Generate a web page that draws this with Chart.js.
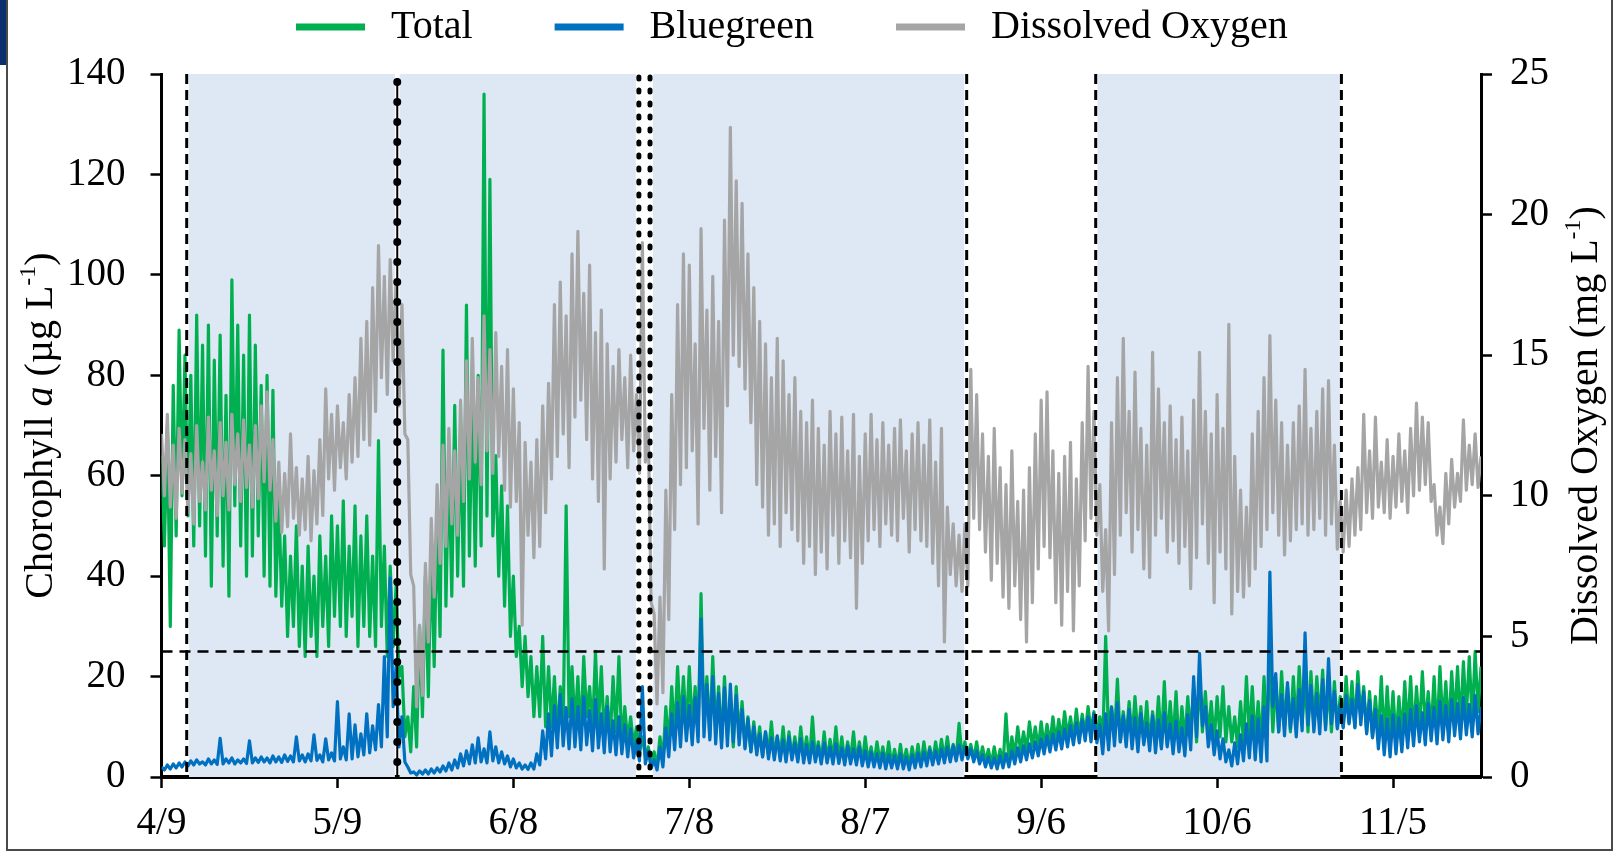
<!DOCTYPE html>
<html>
<head>
<meta charset="utf-8">
<title>Chlorophyll and dissolved oxygen</title>
<script src="https://cdn.jsdelivr.net/npm/chart.js@4.4.1/dist/chart.umd.min.js"></script>
<style>
  html, body { margin: 0; padding: 0; background: #fff; }
  #wrap { position: relative; width: 1613px; height: 853px; overflow: hidden; }
  #chart { position: absolute; left: 0; top: 0; }
  #frame { position: absolute; left: 6px; top: 0; width: 1603px; height: 849px;
           border: 2px solid #4a4a4a; border-top: none; pointer-events: none; }
  #corner { position: absolute; left: 0; top: 0; width: 8px; height: 65px; background: #0b2f6e; }
</style>
</head>
<body>
<div id="wrap">
  <canvas id="chart" width="1613" height="853"></canvas>
  <div id="corner"></div>
  <div id="frame"></div>
</div>
<script>
// time axis: day 0 = 4/9, one reading every half day
const startDay = 0;
const stepDays = 0.5;

const xTickDays = [0, 30, 60, 90, 120, 150, 180, 210];
const xTickLabels = ['4/9', '5/9', '6/8', '7/8', '8/7', '9/6', '10/6', '11/5'];

// Chlorophyll a, total (ug/L)
const totalChl = [
  64,46, 70,30, 78,48, 89,56, 84,52, 80,46, 92,50, 86,44, 90,38, 83,48,
  88,42, 76,36, 99,54, 90,46, 84,40, 92,44, 86,48, 78,40, 80,38, 77,36,
  56,34, 48,28, 44,30, 50,26, 42,24, 46,28, 40,24, 48,30, 44,26, 52,32,
  50,30, 55,28, 46,32, 54,26, 48,30, 52,28, 44,26, 67,30, 46,24, 42,26,
  38,20, 22,8, 12,5, 18,6, 30,12, 40,16, 46,22, 52,28, 85,34, 64,36,
  74,40, 70,38, 94,44, 76,42, 80,46, 136,52, 119,48, 64,40, 58,34, 54,28,
  40,24, 30,18, 28,16, 24,12, 22,12, 28,10, 22,10, 20,8, 18,10, 54,12,
  22,10, 20,8, 24,12, 18,9, 25,10, 22,8, 16,7, 20,9, 24,6, 14,7,
  12,6, 10,5, 8,4, 6,3, 5,2, 8,3, 14,6, 18,8, 22,10, 20,9,
  22,10, 18,8, 36.5,10, 20,8, 24,9, 18,7, 20,8, 16,6, 18,8, 15,6,
  12,5, 11,5, 10,4, 9,4.5, 11,4, 8,4, 10,3.5, 9,4, 8,3.5, 10,4,
  8,3, 12,3.5, 7,3, 9,3, 7.5,3.5, 10,3, 8,3, 7,3.5, 9,3, 7,2.8,
  8,3, 6,2.5, 7,3, 6,2.5, 7,2.5, 5.5,2.2, 6.5,2.5, 5.5,2.2, 6,2.5, 6.5,2.4,
  7,3, 6,3, 7,3.2, 7.5,3.5, 8,3.5, 6.5,3.6, 10.7,4, 7,4, 6.5,3.5, 7,3,
  6,3, 5.5,2.5, 6,2.5, 5.5,2.2, 12.6,3, 8,4, 10,5, 9,5, 11,6, 10,5.5,
  11,6, 10.5,6.5, 12,7, 11.5,7.5, 13,8, 12,7.5, 13.5,8, 12.5,8.5, 14,9, 13,8,
  12,7, 28,7.5, 14,8, 19.5,7, 13,8, 15,7.5, 16,8, 14,7, 15,6.5, 13,7,
  16,6, 19,6.5, 15,7, 17,6, 14,7, 16,8, 18,7, 20,9, 17,8, 15,7,
  16,8, 18,7, 14,7, 12,6, 15,7, 20,8, 18,7, 15,6, 20,8, 24,9,
  19,9, 21,10, 18,9, 20,10, 22,11, 19,9, 21,10, 20,11, 21.3,10, 18,9,
  19,10, 16,10, 20,11, 19,10, 21,12, 18,9, 17,8, 16,8, 20,7, 18,8,
  17,7, 16,8, 19,9, 20,8, 18,9, 21,10, 17,9, 20,8, 22,10, 19,9,
  21,11, 22,10, 23,12, 24,11, 25,13, 22
];

// Chlorophyll a, bluegreen (ug/L)
const bluegreenChl = [
  2.0,1.4, 2.4,1.6, 2.6,1.8, 2.8,2.0, 3.0,2.2, 3.2,2.4, 3.4,2.6, 3.0,2.4, 3.6,2.6, 3.4,2.5,
  7.7,2.6, 3.6,2.8, 3.8,2.6, 3.4,2.8, 3.6,2.7, 7.2,2.8, 3.8,2.9, 4.0,3.0, 3.8,2.8, 4.2,3.0,
  4.0,2.9, 4.4,3.1, 4.2,3.0, 8.0,3.2, 4.4,3.0, 4.6,3.2, 8.4,3.3, 4.4,3.0, 7.6,3.4, 4.8,3.2,
  15.0,3.6, 6.0,3.4, 12.6,3.6, 10.4,4.0, 8.6,4.4, 12.6,4.8, 10.2,5.4, 14.4,6.0, 24.0,8.0, 39.6,14.0,
  22.0,6.0, 12.0,3.0, 2.0,0.8, 1.0,0.4, 1.2,0.6, 1.4,0.6, 1.6,0.8, 1.8,1.0, 2.2,1.2, 2.8,1.4,
  3.4,1.8, 4.6,2.2, 5.2,2.6, 6.4,2.8, 7.8,3.0, 5.6,2.8, 9.0,3.2, 6.0,2.8, 5.0,2.6, 4.2,2.0,
  3.6,1.8, 2.8,1.6, 2.4,1.5, 2.8,1.6, 4.6,2.4, 9.2,3.6, 12.6,4.2, 14.2,5.8, 16.4,6.2, 13.8,5.6,
  15.6,6.0, 14.0,5.4, 16.0,6.4, 13.2,5.2, 15.4,5.8, 12.6,4.8, 14.0,5.0, 11.2,4.4, 12.0,4.6, 10.4,4.0,
  9.6,3.8, 7.2,3.2, 18.0,2.6, 5.2,1.8, 3.4,1.4, 6.0,2.0, 9.8,4.0, 12.6,5.4, 14.8,6.0, 16.0,7.2,
  14.2,6.4, 15.8,7.0, 31.5,8.0, 18.4,7.4, 20.0,6.6, 16.6,5.8, 17.8,6.2, 18.5,7.0, 16.2,6.4, 13.4,5.6,
  11.6,5.0, 10.0,4.4, 8.6,4.0, 9.0,3.6, 7.8,3.4, 8.2,3.2, 7.4,3.0, 8.0,3.4, 6.8,3.0, 7.6,2.8,
  6.4,2.8, 7.0,3.0, 6.2,2.6, 6.8,2.8, 6.0,2.6, 6.6,2.7, 5.8,2.4, 6.2,2.6, 5.6,2.4, 6.0,2.2,
  5.2,2.0, 5.0,2.0, 4.6,1.8, 4.8,1.6, 4.4,1.8, 4.2,1.6, 4.6,1.6, 4.0,1.4, 4.4,1.8, 4.8,2.0,
  5.0,2.2, 5.4,2.4, 5.2,2.6, 5.6,2.8, 6.0,3.0, 6.2,3.2, 6.4,3.4, 6.0,3.6, 5.6,3.0, 5.2,2.6,
  4.4,2.0, 4.0,1.8, 3.8,1.6, 4.2,1.8, 4.6,2.0, 5.2,2.6, 5.8,3.0, 6.2,3.4, 6.6,3.8, 7.0,4.2,
  7.6,4.6, 8.2,5.0, 8.6,5.4, 9.0,5.6, 9.6,6.0, 10.2,6.4, 10.8,6.8, 11.4,7.2, 12.0,7.0, 12.6,6.8,
  10.4,4.6, 12.6,5.4, 13.8,6.2, 14.8,7.0, 12.2,6.0, 13.4,5.6, 11.8,5.0, 12.6,6.4, 10.8,5.2, 12.2,4.8,
  11.4,5.6, 12.8,6.0, 10.6,4.6, 11.2,5.0, 9.8,4.2, 12.4,5.4, 20.0,8.0, 24.6,10.2, 14.0,6.0, 10.4,4.4,
  9.2,3.6, 7.6,3.0, 5.4,2.2, 6.8,2.6, 8.4,3.2, 10.6,3.8, 12.2,3.4, 11.6,3.0, 14.0,3.2, 40.8,14.0,
  20.6,9.0, 16.4,8.2, 18.8,9.6, 15.6,8.0, 17.4,9.2, 28.7,10.4, 18.2,9.0, 16.6,8.6, 19.4,9.4, 23.6,10.6,
  17.0,9.6, 14.4,9.8, 16.2,10.6, 15.4,9.8, 18.4,10.4, 17.0,8.6, 15.2,7.8, 13.4,5.6, 12.2,4.4, 11.6,4.0,
  12.4,4.6, 11.8,5.0, 12.6,5.8, 13.4,6.2, 14.2,7.0, 12.8,6.4, 14.6,7.2, 13.8,6.6, 15.0,7.4, 14.2,7.0,
  15.4,8.2, 14.6,7.6, 15.8,8.4, 14.4,8.0, 16.2,8.6, 14.0
];

// Dissolved oxygen (mg/L), right axis
const dissolvedOxygen = [
  12.2,10.0, 12.9,9.6, 11.8,9.2, 12.4,10.1, 12.0,9.4, 11.5,9.0, 12.5,9.8, 11.2,9.5, 12.8,10.2, 11.6,9.3,
  12.6,10.0, 11.9,9.5, 12.9,10.4, 12.2,9.8, 12.7,10.3, 11.8,9.6, 12.5,9.9, 13.2,10.5, 13.7,10.2, 12.0,9.1,
  11.2,8.7, 10.8,8.9, 12.2,9.2, 11.0,8.6, 10.6,8.8, 11.4,8.4, 10.9,9.0, 12.0,9.3, 13.8,10.6, 12.9,10.2,
  13.2,11.0, 12.6,10.6, 13.6,11.2, 14.2,11.4, 15.6,12.0, 16.2,11.8, 17.4,13.0, 18.9,14.2, 17.8,13.6, 18.4,14.8,
  17.6,13.2, 16.8,12.2, 12.0,7.2, 6.8,2.5, 5.4,2.9, 7.6,4.8, 9.2,6.4, 10.4,7.6, 11.8,8.2, 12.4,9.0,
  11.6,8.6, 13.4,9.8, 14.8,10.6, 15.6,11.2, 14.2,10.4, 16.4,11.6, 15.2,10.8, 15.8,11.4, 14.6,10.2, 15.2,9.6,
  13.8,9.8, 12.6,5.4, 11.9,8.6, 11.2,7.8, 12.0,8.2, 13.2,9.4, 14.0,10.6, 16.8,11.4, 17.6,12.2, 16.4,11.0,
  18.6,12.8, 19.4,13.4, 17.2,12.0, 18.2,10.6, 15.8,9.8, 16.6,7.4, 15.4,10.6, 14.6,11.2, 15.2,12.0, 14.2,11.0,
  15.0,11.6, 13.6,10.8, 19.0,11.2, 12.4,6.2, 5.8,2.6, 6.4,3.0, 10.2,5.6, 13.6,8.8, 16.8,10.4, 18.6,11.0,
  18.2,11.6, 15.4,9.0, 19.5,12.4, 16.6,10.2, 17.8,11.4, 16.2,9.4, 19.8,13.2, 23.1,15.0, 21.2,14.6, 20.4,13.8,
  18.6,12.6, 17.4,10.4, 16.2,9.6, 15.4,8.6, 14.2,9.0, 15.6,8.2, 14.8,9.4, 13.6,8.8, 14.2,8.4, 13.0,7.6,
  12.6,8.2, 13.4,7.2, 12.4,8.0, 11.8,7.4, 13.0,8.6, 12.2,7.6, 12.8,8.4, 11.6,7.8, 12.9,6.0, 11.4,7.6,
  12.2,8.4, 12.9,8.8, 12.0,8.2, 12.6,9.0, 11.8,8.6, 12.4,8.4, 12.7,9.2, 11.6,8.0, 12.2,8.8, 12.6,8.4,
  11.8,8.2, 12.7,7.6, 11.2,6.8, 12.4,4.8, 9.6,7.2, 9.0,6.8, 8.6,6.6, 9.0,6.8, 14.5,9.2, 13.6,8.8,
  12.2,8.0, 11.4,7.0, 12.4,7.6, 11.0,6.4, 10.4,6.0, 11.6,6.8, 9.8,5.6, 10.2,4.8, 11.0,6.2, 12.2,7.4,
  13.4,8.2, 13.7,7.8, 11.6,6.2, 10.8,5.4, 11.4,6.6, 11.9,5.2, 10.6,6.8, 12.6,8.4, 14.6,9.2, 13.0,8.6,
  10.4,6.6, 8.8,5.2, 12.6,7.2, 14.2,8.6, 15.6,9.4, 13.0,8.0, 14.4,8.8, 12.4,7.4, 11.8,7.1, 15.1,8.6,
  13.8,9.2, 12.6,8.0, 13.2,8.4, 12.0,7.6, 12.8,8.2, 11.6,6.7, 13.4,7.8, 15.1,9.0, 13.0,7.6, 12.2,6.2,
  13.6,8.0, 12.4,7.4, 16.1,5.8, 11.4,6.6, 10.2,6.4, 9.6,6.8, 12.2,7.4, 13.0,8.2, 14.2,8.8, 15.7,9.4,
  13.4,8.6, 12.6,7.9, 11.8,8.4, 12.6,8.8, 13.2,9.0, 14.5,8.6, 12.4,8.8, 13.0,9.2, 13.8,8.6, 14.1,9.0,
  11.8,8.1, 9.8,8.0, 10.2,8.2, 10.6,8.6, 11.0,8.8, 12.9,9.4, 11.6,9.2, 12.8,9.6, 11.2,9.4, 12.0,9.2,
  11.4,9.6, 12.2,9.8, 11.6,9.4, 12.4,10.0, 13.3,10.2, 12.8,10.4, 12.6,9.8, 10.4,8.6, 9.6,8.3, 10.8,9.0,
  11.3,9.6, 10.8,9.8, 12.7,10.2, 11.8,10.4, 12.2,10.3, 11.4
];

// periods marked on the chart (days from 4/9)
const shadedPeriods = [[4.7, 39.8], [40.6, 80.9], [83.8, 136.9], [159.6, 201.0]];
const dashedDays = [4.3, 137.3, 159.3, 201.2];
const boldDottedDays = [40.2];
const dottedDays = [81.4, 83.3];
const chlThreshold = 25;

const serif = "'Liberation Serif', 'Times New Roman', serif";
const green = '#00B050';
const blue = '#0070C0';
const grey = '#A5A5A5';

function toPoints(arr) {
    return arr.map(function(v, i) {
        return { x: startDay + i * stepDays, y: v };
    });
}

// shading behind the data, marker lines on top of it
const markers = {
    id: 'markers',
    beforeDatasetsDraw: function(chart) {
        const ctx = chart.ctx;
        const a = chart.chartArea;
        const xs = chart.scales.x;
        ctx.save();
        ctx.fillStyle = '#DEE8F5';
        shadedPeriods.forEach(function(p) {
            const x1 = xs.getPixelForValue(p[0]);
            const x2 = xs.getPixelForValue(p[1]);
            ctx.fillRect(x1, a.top, x2 - x1, a.bottom - a.top);
        });
        ctx.restore();
    },
    afterDatasetsDraw: function(chart) {
        const ctx = chart.ctx;
        const a = chart.chartArea;
        const xs = chart.scales.x;
        const ys = chart.scales.y;
        ctx.save();
        ctx.strokeStyle = '#000';

        // threshold line
        const yT = ys.getPixelForValue(chlThreshold);
        ctx.lineWidth = 2.5;
        ctx.setLineDash([11, 7]);
        ctx.beginPath();
        ctx.moveTo(a.left, yT);
        ctx.lineTo(a.right, yT);
        ctx.stroke();

        ctx.lineWidth = 3;
        ctx.setLineDash([10, 6]);
        dashedDays.forEach(function(d) {
            const x = xs.getPixelForValue(d);
            ctx.beginPath();
            ctx.moveTo(x, a.top);
            ctx.lineTo(x, a.bottom);
            ctx.stroke();
        });

        boldDottedDays.forEach(function(d) {
            const x = xs.getPixelForValue(d);
            ctx.setLineDash([]);
            ctx.lineWidth = 2;
            ctx.beginPath();
            ctx.moveTo(x, a.top + 4);
            ctx.lineTo(x, a.bottom);
            ctx.stroke();
            ctx.lineWidth = 8;
            ctx.lineCap = 'round';
            ctx.setLineDash([0, 20]);
            ctx.beginPath();
            ctx.moveTo(x, a.top + 8);
            ctx.lineTo(x, a.bottom);
            ctx.stroke();
            ctx.lineCap = 'butt';
        });

        ctx.lineWidth = 5;
        ctx.lineCap = 'round';
        ctx.setLineDash([2, 11]);
        dottedDays.forEach(function(d) {
            const x = xs.getPixelForValue(d);
            ctx.beginPath();
            ctx.moveTo(x, a.top + 3);
            ctx.lineTo(x, a.bottom);
            ctx.stroke();
        });
        ctx.restore();
    }
};

function runFont(r, size) {
    return (r.it ? 'italic ' : '') + (r.sup ? Math.round(size * 0.6) : size) + 'px ' + serif;
}

function drawRotated(ctx, runs, cx, cy, size) {
    ctx.save();
    ctx.translate(cx, cy);
    ctx.rotate(-Math.PI / 2);
    ctx.textBaseline = 'middle';
    ctx.textAlign = 'left';
    ctx.fillStyle = '#000';
    let total = 0;
    runs.forEach(function(r) {
        ctx.font = runFont(r, size);
        r.w = ctx.measureText(r.t).width;
        total += r.w;
    });
    let x = -total / 2;
    runs.forEach(function(r) {
        ctx.font = runFont(r, size);
        ctx.fillText(r.t, x, r.sup ? -size * 0.3 : 0);
        x += r.w;
    });
    ctx.restore();
}

// axis titles (italic a, superscripts) and the legend row
const annotations = {
    id: 'annotations',
    afterDraw: function(chart) {
        const ctx = chart.ctx;
        const a = chart.chartArea;
        const midY = (a.top + a.bottom) / 2;
        drawRotated(ctx, [
            { t: 'Chorophyll ' }, { t: 'a', it: true }, { t: ' (\u00b5g L' }, { t: '-1', sup: true }, { t: ')' }
        ], 41, midY, 40);
        drawRotated(ctx, [
            { t: 'Dissolved Oxygen (mg L' }, { t: '-1', sup: true }, { t: ')' }
        ], 1586, midY, 40);

        const items = [['Total', green], ['Bluegreen', blue], ['Dissolved Oxygen', grey]];
        ctx.save();
        ctx.font = '40px ' + serif;
        ctx.textBaseline = 'middle';
        ctx.textAlign = 'left';
        let x = 296;
        const y = 27;
        items.forEach(function(it) {
            ctx.strokeStyle = it[1];
            ctx.lineWidth = 7;
            ctx.beginPath();
            ctx.moveTo(x, y);
            ctx.lineTo(x + 69, y);
            ctx.stroke();
            x += 69 + 26;
            ctx.fillStyle = '#000';
            ctx.fillText(it[0], x, y);
            x += ctx.measureText(it[0]).width + 82;
        });
        ctx.restore();
    }
};

const ctx = document.getElementById('chart').getContext('2d');
const chart = new Chart(ctx, {
    type: 'line',
    data: {
        datasets: [
            { label: 'Total', data: toPoints(totalChl), borderColor: green, backgroundColor: green, yAxisID: 'y', order: 3 },
            { label: 'Bluegreen', data: toPoints(bluegreenChl), borderColor: blue, backgroundColor: blue, yAxisID: 'y', order: 2 },
            { label: 'Dissolved Oxygen', data: toPoints(dissolvedOxygen), borderColor: grey, backgroundColor: grey, yAxisID: 'y1', order: 1 }
        ]
    },
    options: {
        responsive: false,
        animation: false,
        parsing: false,
        elements: {
            point: { radius: 0 },
            line: { borderWidth: 3.2, tension: 0, borderJoinStyle: 'round', fill: false }
        },
        layout: { padding: { top: 74, left: 0, right: 0, bottom: 0 } },
        plugins: {
            legend: { display: false },
            tooltip: { enabled: false }
        },
        scales: {
            x: {
                type: 'linear',
                min: 0,
                max: 225,
                afterBuildTicks: function(s) {
                    s.ticks = xTickDays.map(function(v) { return { value: v }; });
                },
                afterFit: function(s) { s.height = 76; },
                ticks: {
                    autoSkip: false,
                    maxRotation: 0,
                    padding: 12,
                    color: '#000',
                    font: { family: serif, size: 39 },
                    callback: function(v, i) { return xTickLabels[i]; }
                },
                grid: { drawOnChartArea: false, drawTicks: true, tickLength: 11, tickColor: '#000', tickWidth: 2.5 },
                border: { display: true, color: '#000', width: 4 }
            },
            y: {
                position: 'left',
                min: 0,
                max: 140,
                afterFit: function(s) { s.width = 161.5; },
                ticks: { stepSize: 20, padding: 25, color: '#000', font: { family: serif, size: 39 } },
                grid: { drawOnChartArea: false, drawTicks: true, tickLength: 11, tickColor: '#000', tickWidth: 2.5 },
                border: { display: true, color: '#000', width: 3 }
            },
            y1: {
                position: 'right',
                min: 0,
                max: 25,
                afterFit: function(s) { s.width = 132; },
                ticks: { stepSize: 5, padding: 18, color: '#000', font: { family: serif, size: 39 } },
                grid: { drawOnChartArea: false, drawTicks: true, tickLength: 11, tickColor: '#000', tickWidth: 2.5 },
                border: { display: true, color: '#000', width: 3 }
            }
        }
    },
    plugins: [markers, annotations]
});
</script>
</body>
</html>
